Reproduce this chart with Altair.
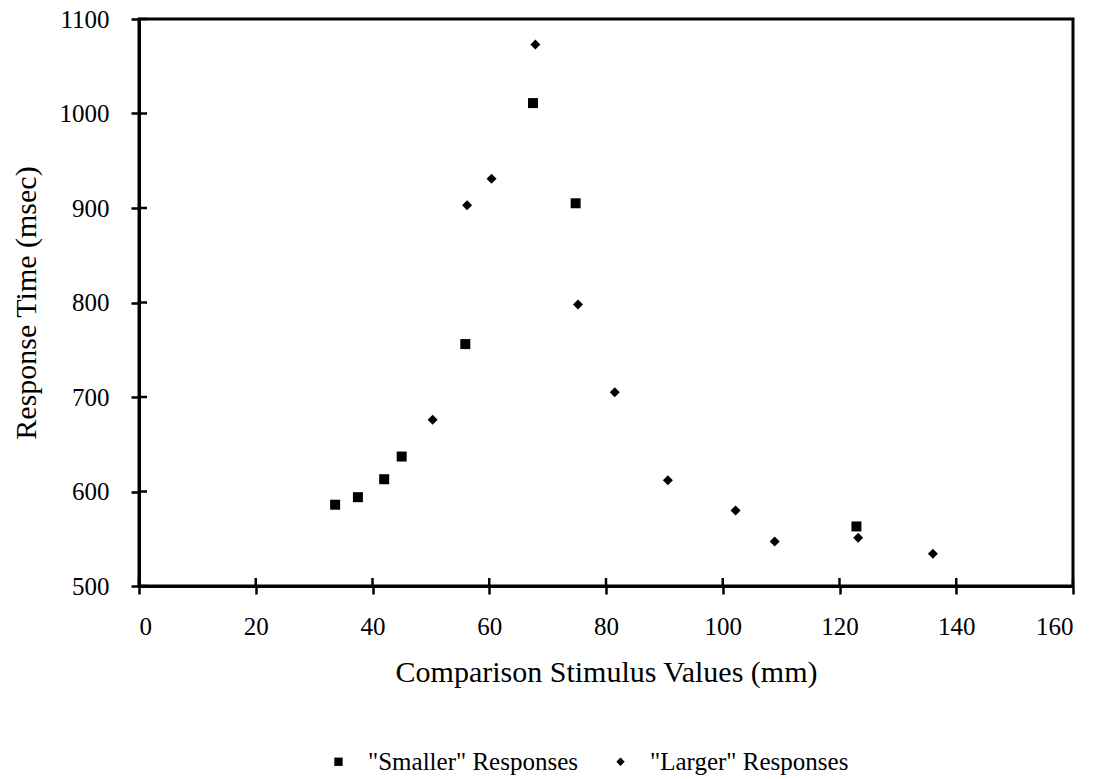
import altair as alt
import pandas as pd

smaller_x = [33.6, 37.5, 42.0, 45.0, 55.9, 67.5, 74.8, 122.9]
smaller_y = [586, 594, 613, 637, 756, 1011, 905, 563]
larger_x = [50.3, 56.2, 60.4, 67.9, 75.2, 81.5, 90.6, 102.2, 108.9, 123.2, 136.0]
larger_y = [676, 903, 931, 1073, 798, 705, 612, 580, 547, 551, 534]

series_names = ['"Smaller" Responses', '"Larger" Responses']
x_ticks = [0, 20, 40, 60, 80, 100, 120, 140, 160]
y_ticks = [500, 600, 700, 800, 900, 1000, 1100]

rows = []
for x, y in zip(smaller_x, smaller_y):
    rows.append({"x": x, "y": y, "series": series_names[0]})
for x, y in zip(larger_x, larger_y):
    rows.append({"x": x, "y": y, "series": series_names[1]})
df = pd.DataFrame(rows)

FONT = "Liberation Serif"
xscale = alt.Scale(domain=[0, 160], nice=False, zero=False)
yscale = alt.Scale(domain=[500, 1100], nice=False, zero=False)

points = alt.Chart(df).mark_point(filled=True, color="black", opacity=1, size=100).encode(
    x=alt.X("x:Q", scale=xscale,
            axis=alt.Axis(values=x_ticks, format="d", title="Comparison Stimulus Values (mm)",
                          grid=False, tickSize=8, labelPadding=20, titlePadding=18,
                          labelFont=FONT, labelFontSize=25, labelColor="black",
                          titleFont=FONT, titleFontSize=30, titleFontWeight="normal",
                          titleColor="black")),
    y=alt.Y("y:Q", scale=yscale,
            axis=alt.Axis(values=y_ticks, format="d", title="Response Time (msec)",
                          grid=False, tickSize=8, labelPadding=22, titlePadding=18,
                          labelFont=FONT, labelFontSize=25, labelColor="black",
                          titleFont=FONT, titleFontSize=30, titleFontWeight="normal",
                          titleColor="black")),
    shape=alt.Shape("series:N",
                    scale=alt.Scale(domain=series_names, range=["square", "diamond"]),
                    legend=alt.Legend(title=None, orient="none", direction="horizontal",
                                      legendX=187, legendY=730, columnPadding=30,
                                      symbolSize=70, symbolFillColor="black",
                                      symbolStrokeColor="black", labelFont=FONT,
                                      labelFontSize=25, labelColor="black",
                                      labelLimit=0, labelOffset=17)),
)

# inner halves of the axis tick marks (ticks cross the axis line in the original)
xt = pd.DataFrame({"x": x_ticks})
yt = pd.DataFrame({"y": y_ticks})
xin = alt.Chart(xt).mark_rule(color="black", strokeWidth=2.5).encode(
    x=alt.X("x:Q", scale=xscale), y=alt.value(567), y2=alt.value(559))
yin = alt.Chart(yt).mark_rule(color="black", strokeWidth=2.5).encode(
    y=alt.Y("y:Q", scale=yscale), x=alt.value(0), x2=alt.value(8))

chart = alt.layer(xin, yin, points).properties(
    width=934, height=567,
    autosize=alt.AutoSizeParams(type="none"),
    padding={"left": 139, "top": 19, "right": 30, "bottom": 193},
).configure_view(
    stroke="black", strokeWidth=3
).configure_axis(
    domainColor="black", domainWidth=3, tickColor="black", tickWidth=2.5,
)

chart.save("out.html", embed_options={"renderer": "svg", "actions": False})
